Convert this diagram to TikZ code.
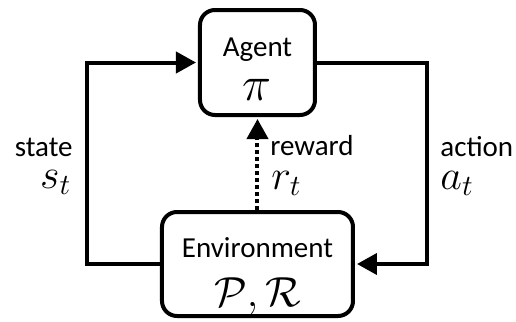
\documentclass[tikz,border=0pt]{standalone}
\usepackage{graphicx}
\usepackage{fontspec}
\setmainfont{Carlito}
\usetikzlibrary{arrows.meta}
\newcommand{\mathbig}[2][1.46]{\scalebox{#1}{$#2$}}
\tikzset{
  box/.style={draw, line width=2pt, rounded corners=7.5pt, inner sep=0pt},
  wire/.style={line width=2pt},
  tipend/.style={-{Triangle[length=10pt,width=10.5pt]}, shorten >=1pt},
  dotline/.style={line width=2pt, dash pattern=on 2pt off 1.5pt},
  txt/.style={inner sep=0pt, font=\fontsize{14.5}{17}\selectfont},
  mth/.style={inner sep=0pt, font=\fontsize{14.4}{17}\selectfont},
}
\begin{document}
\begin{tikzpicture}[x=0.5pt,y=-0.5pt]
\useasboundingbox (0,0) rectangle (516,322);
\node[box, minimum width=57.5pt, minimum height=52.5pt] (agent) at (257.5,62.5) {};
\node[box, minimum width=95.5pt, minimum height=52pt] (env) at (257.5,264) {};
\coordinate (lx) at (87,0);
\coordinate (rx) at (427,0);
\draw[wire, tipend] (env.west) -- (env.west -| lx) |- (agent.west);
\draw[wire, tipend] (agent.east) -- (agent.east -| rx) |- (env.east);
\draw[dotline, tipend] (env.north) -- (agent.south);
\node[txt, anchor=base] (agentlbl) at (257.5,56) {Agent};
\node[mth, anchor=base] (pi) at (257,100) {\mathbig[1.7]{\pi}};
\node[txt, anchor=base] (envlbl) at (257.5,257) {Environment};
\node[mth, anchor=base] (pr) at (257.5,306) {\mathbig{\mathcal{P},\mathcal{R}}};
\node[txt, anchor=base east] (state) at (73,156) {state};
\node[mth, anchor=base east] (st) at (72,188) {\mathbig{s_t}};
\node[txt, anchor=base west] (action) at (440,156) {action};
\node[mth, anchor=base west] (at) at (440,189) {\mathbig{a_t}};
\node[txt, anchor=base west] (reward) at (270,155) {reward};
\node[mth, anchor=base west] (rt) at (271,189) {\mathbig{r_t}};
\end{tikzpicture}
\end{document}
